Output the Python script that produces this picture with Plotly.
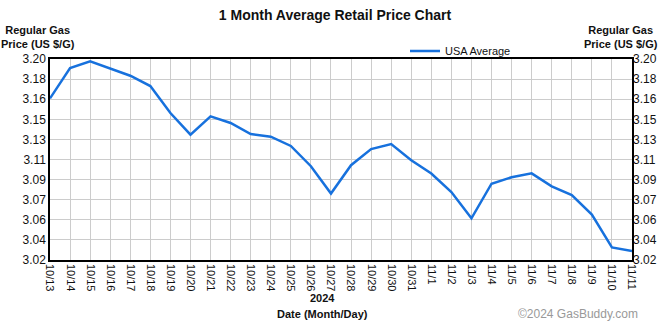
import plotly.graph_objects as go

dates = ["10/13", "10/14", "10/15", "10/16", "10/17", "10/18", "10/19", "10/20",
         "10/21", "10/22", "10/23", "10/24", "10/25", "10/26", "10/27", "10/28",
         "10/29", "10/30", "10/31", "11/1", "11/2", "11/3", "11/4", "11/5",
         "11/6", "11/7", "11/8", "11/9", "11/10", "11/11"]
usa_avg = [3.1647, 3.1919, 3.1979, 3.1913, 3.1850, 3.1758, 3.1516, 3.1322,
           3.1486, 3.1427, 3.1328, 3.1304, 3.1221, 3.1040, 3.0795, 3.1049,
           3.1193, 3.1238, 3.1094, 3.0975, 3.0809, 3.0573, 3.0883, 3.0941,
           3.0976, 3.0859, 3.0782, 3.0606, 3.0313, 3.0280]
y_tick_vals = [3.02, 3.038, 3.056, 3.074, 3.092, 3.11, 3.128, 3.146, 3.164, 3.182, 3.20]
y_tick_text = ["3.02", "3.04", "3.06", "3.07", "3.09", "3.11", "3.13", "3.15", "3.16", "3.18", "3.20"]
y_range = [3.02, 3.20]

FONT = "Liberation Sans, Arial, sans-serif"
LINE = "#1771dd"

fig = go.Figure()
fig.add_trace(go.Scatter(x=dates, y=usa_avg, mode="lines", name="USA Average",
                         line=dict(color=LINE, width=2.5)))
fig.add_trace(go.Scatter(x=dates, y=usa_avg, mode="lines", yaxis="y2",
                         line=dict(color="rgba(0,0,0,0)", width=0),
                         showlegend=False, hoverinfo="skip"))

axis_font = dict(family=FONT, size=11, color="#111")
fig.update_layout(
    width=670, height=325,
    margin=dict(l=50, r=38, t=59, b=65),
    paper_bgcolor="white", plot_bgcolor="white",
    font=dict(family=FONT, size=11, color="#111"),
    title=dict(text="<b>1 Month Average Retail Price Chart</b>", x=0.5, xanchor="center",
               y=0.955, yanchor="middle", font=dict(family=FONT, size=14, color="#111")),
    xaxis=dict(type="category", range=[0, len(dates) - 1], tickangle=90,
               showgrid=True, gridcolor="#cccccc", gridwidth=1,
               showline=True, linecolor="black", linewidth=1.5, mirror=True,
               ticks="", tickfont=axis_font, zeroline=False, fixedrange=True),
    yaxis=dict(range=y_range, tickvals=y_tick_vals, ticktext=y_tick_text,
               showgrid=True, gridcolor="#cccccc", gridwidth=1,
               showline=True, linecolor="black", linewidth=1.5, mirror=True,
               ticks="", tickfont=dict(family=FONT, size=12, color="#111"),
               zeroline=False),
    yaxis2=dict(range=y_range, tickvals=y_tick_vals, ticktext=y_tick_text,
                overlaying="y", side="right", showgrid=False, zeroline=False,
                ticks="", tickfont=dict(family=FONT, size=12, color="#111")),
    legend=dict(x=410, y=50, xref="paper", yref="paper"),
    showlegend=True,
)
fig.update_layout(legend=dict(x=(405 - 50) / 582, y=(325 - 65 - 42) / 201 - 1 + 1,
                              xanchor="left", yanchor="middle",
                              orientation="h", bgcolor="rgba(0,0,0,0)",
                              font=dict(family=FONT, size=11, color="#111")))
fig.update_layout(legend=dict(y=1 + (59 - 51) / 201))

annots = [
    dict(text="<b>Regular Gas<br>Price (US $/G)</b>", x=38, y=325 - 37, xanchor="center", yanchor="middle"),
    dict(text="<b>Regular Gas<br>Price (US $/G)</b>", x=621, y=325 - 37, xanchor="center", yanchor="middle"),
    dict(text="<b>2024</b>", x=322, y=325 - 298, xanchor="center", yanchor="middle"),
    dict(text="<b>Date (Month/Day)</b>", x=322, y=325 - 314, xanchor="center", yanchor="middle"),
]
for a in annots:
    fig.add_annotation(text=a["text"], x=(a["x"] - 50) / 582, y=(a["y"] - 65) / 201,
                       xref="paper", yref="paper", xanchor=a["xanchor"], yanchor=a["yanchor"],
                       showarrow=False, font=dict(family=FONT, size=11, color="#111"))
fig.add_annotation(text="©2024 GasBuddy.com", x=(640 - 50) / 582, y=(325 - 314 - 65) / 201,
                   xref="paper", yref="paper", xanchor="right", yanchor="middle",
                   showarrow=False, font=dict(family=FONT, size=12, color="#999"))

fig.write_html("out.html")
